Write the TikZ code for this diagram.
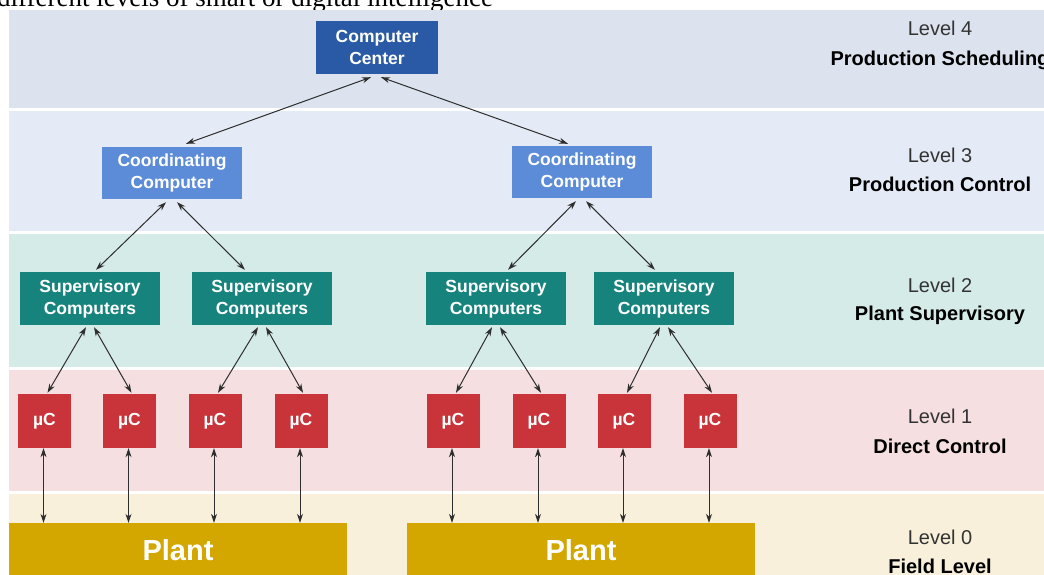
\documentclass[tikz,border=0pt]{standalone}
\usepackage{fontspec}
\setmainfont{Liberation Sans}
\newfontfamily\capfont{Liberation Serif}
\usetikzlibrary{arrows.meta,calc}
\definecolor{bandA}{HTML}{DCE3EF}
\definecolor{bandB}{HTML}{E5EBF6}
\definecolor{bandC}{HTML}{D5EBE8}
\definecolor{bandD}{HTML}{F6DFE0}
\definecolor{bandE}{HTML}{F8F0DA}
\definecolor{ccblue}{HTML}{2A5AA5}
\definecolor{coordblue}{HTML}{5C8CD8}
\definecolor{supteal}{HTML}{16837C}
\definecolor{mcred}{HTML}{C8343A}
\definecolor{plantgold}{HTML}{D3A700}
\definecolor{arrowgray}{HTML}{2E2E2E}
\definecolor{lvlgray}{HTML}{333333}
\begin{document}
\begin{tikzpicture}[x=1pt,y=-1pt,
  boxbase/.style={text=white, align=center, inner sep=0pt,
    font=\bfseries\fontsize{17.5}{22}\selectfont},
  ccbox/.style={boxbase, fill=ccblue, minimum width=122pt, minimum height=53pt},
  coordbox/.style={boxbase, fill=coordblue, minimum width=140pt, minimum height=52pt},
  supbox/.style={boxbase, fill=supteal, minimum width=140pt, minimum height=53pt},
  mcbox/.style={boxbase, fill=mcred, minimum width=53pt, minimum height=54pt,
    font=\bfseries\fontsize{17.5}{20}\selectfont},
  plantbox/.style={fill=plantgold, text=white, inner sep=0pt,
    minimum height=54pt, font=\bfseries\fontsize{29}{30}\selectfont},
  lvl/.style={inner sep=0pt, text height=14.5pt, text depth=0pt, text=lvlgray,
    font=\fontsize{20}{22}\selectfont},
  lvlb/.style={inner sep=0pt, text height=14.5pt, text depth=0pt, text=black,
    font=\bfseries\fontsize{20}{22}\selectfont},
  conn/.style={draw=arrowgray, line width=1pt,
    {Stealth[length=9pt,width=6pt]}-{Stealth[length=9pt,width=6pt]}}
]
\useasboundingbox (0,0) rectangle (1044,575);
\clip (0,0) rectangle (1044,575);
\fill[white] (0,0) rectangle (1044,575);
% cropped caption
\node[anchor=base west, inner sep=0pt, font=\capfont\fontsize{27}{29}\selectfont] (cap) at (-3,7) {different levels of smart or digital intelligence};
% bands
\fill[bandA] (9,10) rectangle (1044,108);
\fill[bandB] (9,111) rectangle (1044,231);
\fill[bandC] (9,234) rectangle (1044,367);
\fill[bandD] (9,370) rectangle (1044,491);
\fill[bandE] (9,494) rectangle (1044,575);
% level labels
\node[lvl]  (l4a) at (940,28)  {Level 4};
\node[lvlb] (l4b) at (940,58)  {Production Scheduling};
\node[lvl]  (l3a) at (940,155) {Level 3};
\node[lvlb] (l3b) at (940,184) {Production Control};
\node[lvl]  (l2a) at (940,285) {Level 2};
\node[lvlb] (l2b) at (940,313) {Plant Supervisory};
\node[lvl]  (l1a) at (940,416) {Level 1};
\node[lvlb] (l1b) at (940,446) {Direct Control};
\node[lvl]  (l0a) at (940,537) {Level 0};
\node[lvlb] (l0b) at (940,566) {Field Level};
% nodes
\node[ccbox] (cc) at (377,47.5) {Computer\\Center};
\node[coordbox] (cl) at (172,173) {Coordinating\\Computer};
\node[coordbox] (cr) at (582,172) {Coordinating\\Computer};
\node[supbox] (s1) at (90,298.5) {Supervisory\\Computers};
\node[supbox] (s2) at (262,298.5) {Supervisory\\Computers};
\node[supbox] (s3) at (496,298.5) {Supervisory\\Computers};
\node[supbox] (s4) at (664,298.5) {Supervisory\\Computers};
\node[mcbox] (m1) at (44.5,421) {µC};
\node[mcbox] (m2) at (129.5,421) {µC};
\node[mcbox] (m3) at (215,421) {µC};
\node[mcbox] (m4) at (301,421) {µC};
\node[mcbox] (m5) at (453,421) {µC};
\node[mcbox] (m6) at (539,421) {µC};
\node[mcbox] (m7) at (624,421) {µC};
\node[mcbox] (m8) at (710,421) {µC};
\node[plantbox, minimum width=338pt] (p1) at (178,550) {Plant};
\node[plantbox, minimum width=348pt] (p2) at (581,550) {Plant};
% connectors
\draw[conn] ([xshift=-6pt,yshift=-3pt]cc.south) -- ([xshift=14pt,yshift=3pt]cl.north);
\draw[conn] ([xshift=4pt,yshift=-3pt]cc.south) -- ([xshift=-14pt,yshift=2pt]cr.north);
\draw[conn] ([xshift=-6pt,yshift=-3pt]cl.south) -- ([xshift=6pt,yshift=2pt]s1.north);
\draw[conn] ([xshift=5pt,yshift=-3pt]cl.south) -- ([xshift=-17pt,yshift=2pt]s2.north);
\draw[conn] ([xshift=-6pt,yshift=-3pt]cr.south) -- ([xshift=12pt,yshift=2pt]s3.north);
\draw[conn] ([xshift=4pt,yshift=-3pt]cr.south) -- ([xshift=-9pt,yshift=2pt]s4.north);
\foreach \s/\a/\b in {s1/m1/m2, s2/m3/m4, s3/m5/m6, s4/m7/m8}{
  \draw[conn] ([xshift=-4pt,yshift=-2pt]\s.south) -- ([xshift=3pt,yshift=1pt]\a.north);
  \draw[conn] ([xshift=4pt,yshift=-2pt]\s.south) -- ([xshift=2pt,yshift=1pt]\b.north);
}
\foreach \m in {m1,m2,m3,m4}{
  \draw[conn] ([xshift=-1pt]\m.south) -- ([xshift=-1pt]\m.south |- p1.north);
}
\foreach \m in {m5,m6,m7,m8}{
  \draw[conn] ([xshift=-1pt]\m.south) -- ([xshift=-1pt]\m.south |- p2.north);
}
\end{tikzpicture}
\end{document}
